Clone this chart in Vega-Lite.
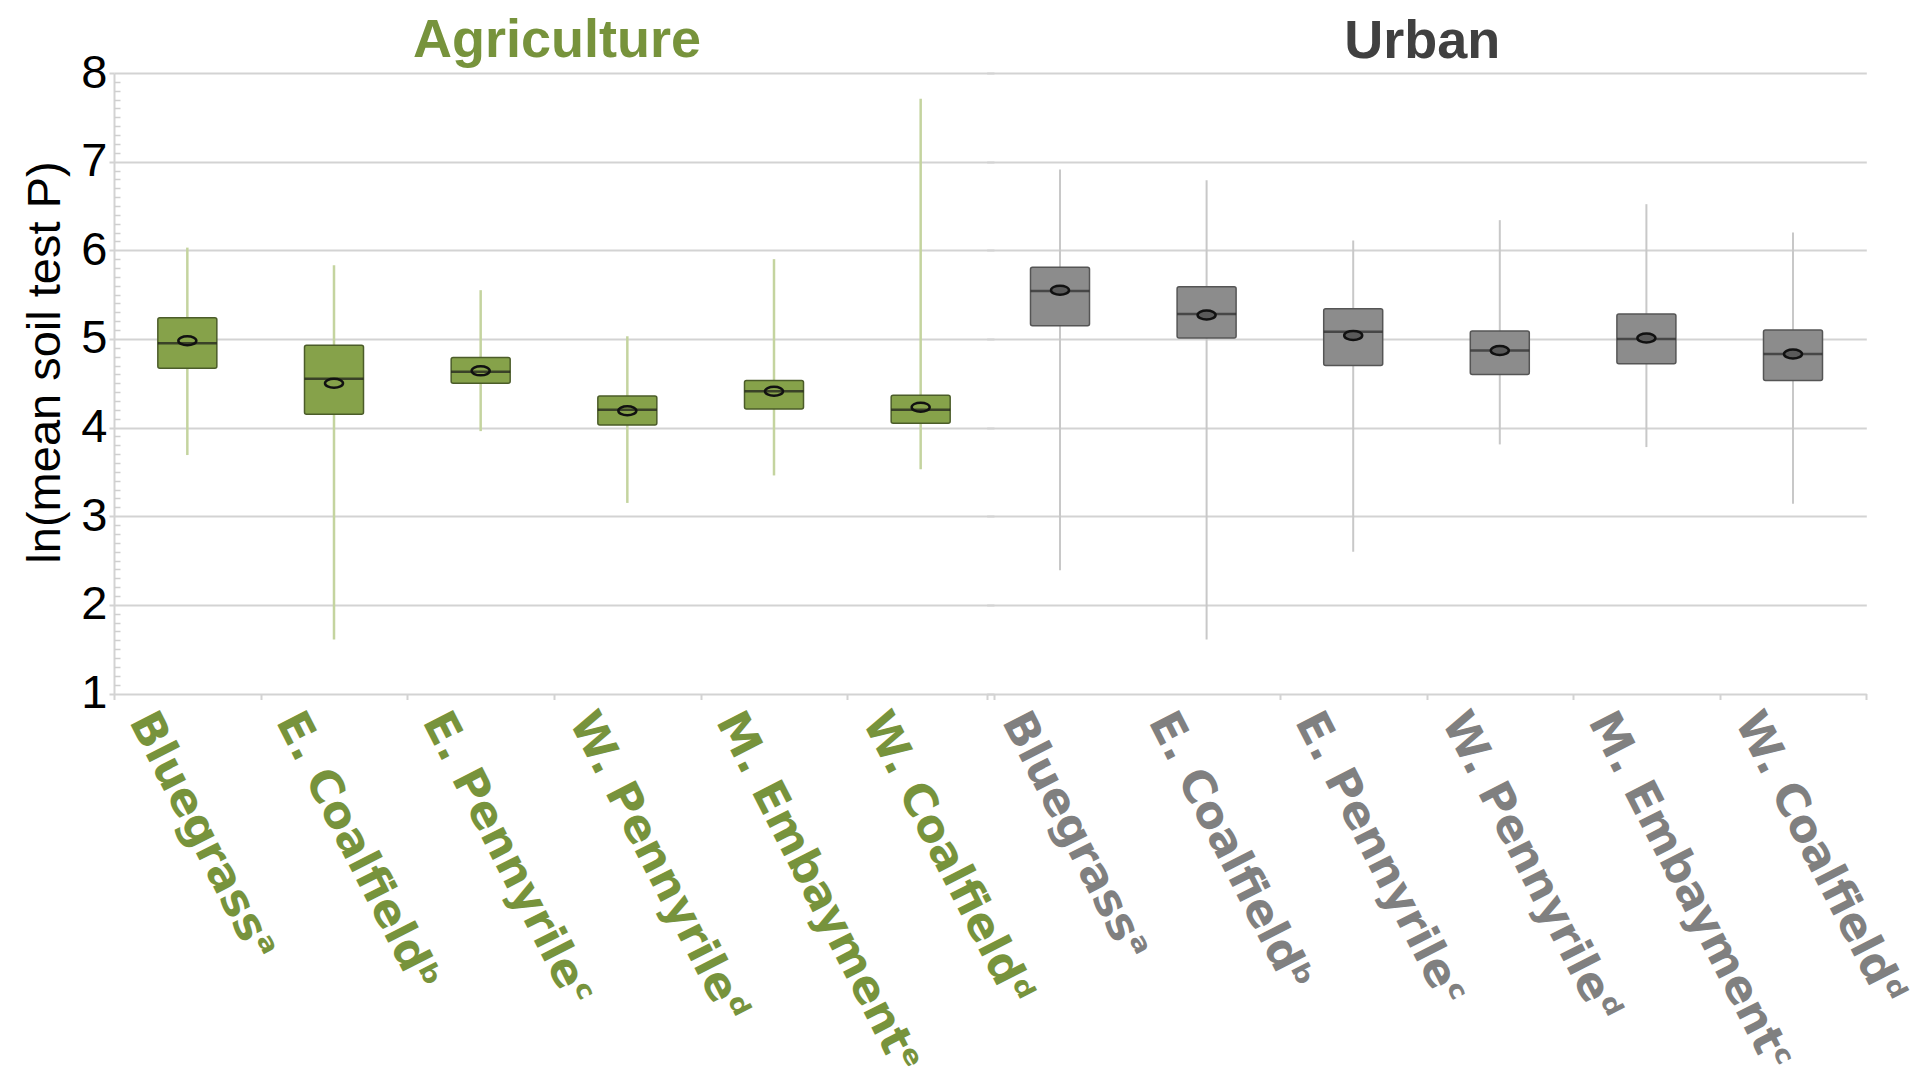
{
  "$schema": "https://vega.github.io/schema/vega-lite/v6.json",
  "background": "white",
  "padding": {"left": 20, "top": 14, "right": 10, "bottom": 0},
  "spacing": 15,
  "bounds": "flush",
  "config": {
    "view": {"stroke": null},
    "axis": {"labelFont": "Liberation Sans", "titleFont": "Liberation Sans"}
  },
  "datasets": {
    "ag": [
      {"label": "Bluegrassᵃ", "min": 3.69, "q1": 4.67, "median": 4.95, "q3": 5.24, "max": 6.03, "mean": 4.98},
      {"label": "E. Coalfieldᵇ", "min": 1.61, "q1": 4.15, "median": 4.55, "q3": 4.93, "max": 5.83, "mean": 4.50},
      {"label": "E. Pennyrileᶜ", "min": 3.96, "q1": 4.50, "median": 4.63, "q3": 4.79, "max": 5.55, "mean": 4.64},
      {"label": "W. Pennyrileᵈ", "min": 3.15, "q1": 4.03, "median": 4.20, "q3": 4.355, "max": 5.03, "mean": 4.19},
      {"label": "M. Embaymentᵉ", "min": 3.46, "q1": 4.21, "median": 4.41, "q3": 4.53, "max": 5.90, "mean": 4.41},
      {"label": "W. Coalfieldᵈ", "min": 3.53, "q1": 4.05, "median": 4.20, "q3": 4.365, "max": 7.71, "mean": 4.23}
    ],
    "urban": [
      {"label": "Bluegrassᵃ", "min": 2.39, "q1": 5.15, "median": 5.54, "q3": 5.81, "max": 6.91, "mean": 5.55},
      {"label": "E. Coalfieldᵇ", "min": 1.61, "q1": 5.01, "median": 5.28, "q3": 5.59, "max": 6.79, "mean": 5.27},
      {"label": "E. Pennyrileᶜ", "min": 2.60, "q1": 4.70, "median": 5.08, "q3": 5.34, "max": 6.11, "mean": 5.04},
      {"label": "W. Pennyrileᵈ", "min": 3.81, "q1": 4.60, "median": 4.87, "q3": 5.09, "max": 6.34, "mean": 4.87},
      {"label": "M. Embaymentᶜ", "min": 3.78, "q1": 4.72, "median": 5.00, "q3": 5.28, "max": 6.52, "mean": 5.01},
      {"label": "W. Coalfieldᵈ", "min": 3.14, "q1": 4.53, "median": 4.83, "q3": 5.10, "max": 6.20, "mean": 4.83}
    ]
  },
  "hconcat": [
    {
      "width": 880,
      "height": 620.5,
      "title": {"text": "Agriculture", "color": "#77933c", "font": "Liberation Sans", "fontSize": 54, "fontWeight": "bold", "offset": -19, "dx": 3},
      "data": {"name": "ag"},
      "encoding": {
        "x": {
          "field": "label", "type": "nominal", "sort": null,
          "scale": {"paddingInner": 0, "paddingOuter": 0},
          "axis": {
            "title": null, "domain": false, "ticks": true, "tickBand": "extent", "tickSize": 6,
            "tickColor": "#d3d3d3", "tickWidth": 2,
            "labelAngle": 63, "labelAlign": "left", "labelBaseline": "top",
            "labelFont": "DejaVu Sans", "labelFontWeight": "bold", "labelFontSize": 45,
            "labelColor": "#77933c", "labelPadding": 5, "labelOffset": -27,
            "labelLimit": 0, "labelOverlap": false, "labelBound": false
          }
        }
      },
      "layer": [
        {
          "mark": {"type": "rule", "color": "#c4d49f", "strokeWidth": 2.5},
          "encoding": {
            "y": {
              "field": "min", "type": "quantitative",
              "scale": {"domain": [1, 8], "nice": false, "zero": false},
              "axis": {
                "title": "ln(mean soil test P)", "titleFontSize": 47, "titleFontWeight": "normal",
                "titleColor": "#000000", "titleX": -55, "titleY": 289, "titleBaseline": "alphabetic",
                "titleAngle": 270, "titleAlign": "center",
                "values": [1, 2, 3, 4, 5, 6, 7, 8],
                "labelFontSize": 47, "labelColor": "#000000", "labelPadding": 2,
                "tickSize": 5, "tickColor": "#d3d3d3", "tickWidth": 2,
                "domain": true, "domainColor": "#d3d3d3", "domainWidth": 2,
                "grid": true, "gridColor": "#d3d3d3", "gridWidth": 2
              }
            },
            "y2": {"field": "max"}
          }
        },
        {
          "mark": {"type": "bar", "width": 59, "fill": "#86a24a", "stroke": "#4b5c29", "strokeWidth": 1.5, "cornerRadius": 2},
          "encoding": {
            "y": {
              "field": "q1", "type": "quantitative",
              "axis": {
                "orient": "left", "title": null, "labels": false, "domain": false, "grid": false,
                "tickSize": -6, "tickColor": "#cfcfcf", "tickWidth": 1.5,
                "values": [1.1,1.2,1.3,1.4,1.5,1.6,1.7,1.8,1.9,2.1,2.2,2.3,2.4,2.5,2.6,2.7,2.8,2.9,3.1,3.2,3.3,3.4,3.5,3.6,3.7,3.8,3.9,4.1,4.2,4.3,4.4,4.5,4.6,4.7,4.8,4.9,5.1,5.2,5.3,5.4,5.5,5.6,5.7,5.8,5.9,6.1,6.2,6.3,6.4,6.5,6.6,6.7,6.8,6.9,7.1,7.2,7.3,7.4,7.5,7.6,7.7,7.8,7.9]
              }
            },
            "y2": {"field": "q3"}
          }
        },
        {
          "mark": {"type": "tick", "size": 59, "thickness": 2.5, "color": "#1a1a1a"},
          "encoding": {"y": {"field": "median", "type": "quantitative", "axis": null}}
        },
        {
          "mark": {"type": "point", "shape": "M-1,0A1,0.5 0 1,1 1,0A1,0.5 0 1,1 -1,0Z", "size": 324, "filled": false, "stroke": "#111111", "strokeWidth": 2.5, "opacity": 1},
          "encoding": {"y": {"field": "mean", "type": "quantitative", "axis": null}}
        }
      ],
      "resolve": {"axis": {"y": "independent"}}
    },
    {
      "width": 856.3,
      "height": 620.5,
      "title": {"text": "Urban", "color": "#404040", "font": "Liberation Sans", "fontSize": 54, "fontWeight": "bold", "offset": 4, "dx": -15},
      "data": {"name": "urban"},
      "encoding": {
        "x": {
          "field": "label", "type": "nominal", "sort": null,
          "scale": {"paddingInner": 0, "paddingOuter": 0, "range": [-22.3, 857.3]},
          "axis": {
            "title": null, "domain": false, "ticks": true, "tickBand": "extent", "tickSize": 6,
            "tickColor": {"condition": {"test": "datum.value === 'Bluegrassᵃ'", "value": "rgba(0,0,0,0)"}, "value": "#d3d3d3"},
            "tickWidth": 2,
            "labelAngle": 63, "labelAlign": "left", "labelBaseline": "top",
            "labelFont": "DejaVu Sans", "labelFontWeight": "bold", "labelFontSize": 45,
            "labelColor": "#808080", "labelPadding": 5, "labelOffset": -27,
            "labelLimit": 0, "labelOverlap": false, "labelBound": false
          }
        }
      },
      "layer": [
        {
          "mark": {"type": "rule", "color": "#c8c8c8", "strokeWidth": 2},
          "encoding": {
            "y": {
              "field": "min", "type": "quantitative",
              "scale": {"domain": [1, 8], "nice": false, "zero": false},
              "axis": {
                "title": null, "labels": false, "ticks": false, "domain": false,
                "values": [1, 2, 3, 4, 5, 6, 7, 8],
                "grid": true, "gridColor": "#d3d3d3", "gridWidth": 2
              }
            },
            "y2": {"field": "max"}
          }
        },
        {
          "mark": {"type": "bar", "width": 59, "fill": "#8c8c8c", "stroke": "#555555", "strokeWidth": 1.5, "cornerRadius": 2},
          "encoding": {"y": {"field": "q1", "type": "quantitative"}, "y2": {"field": "q3"}}
        },
        {
          "mark": {"type": "tick", "size": 59, "thickness": 2.5, "color": "#2a2a2a"},
          "encoding": {"y": {"field": "median", "type": "quantitative"}}
        },
        {
          "mark": {"type": "point", "shape": "M-1,0A1,0.5 0 1,1 1,0A1,0.5 0 1,1 -1,0Z", "size": 324, "filled": true, "fill": "#5a5a5a", "stroke": "#111111", "strokeWidth": 2.5, "opacity": 1},
          "encoding": {"y": {"field": "mean", "type": "quantitative"}}
        }
      ]
    }
  ]
}
